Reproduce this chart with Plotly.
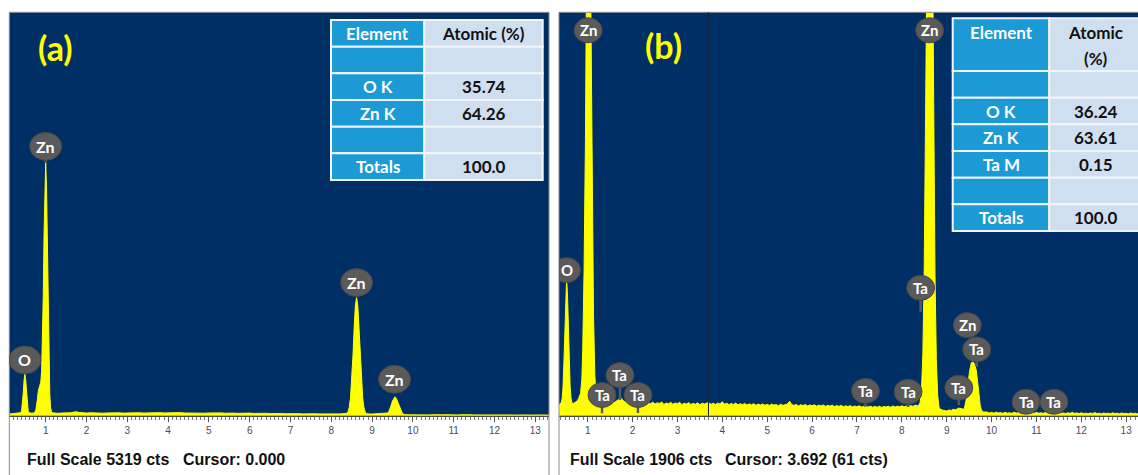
import plotly.graph_objects as go

# ---------------- EDS spectrum (a): undoped ZnO ----------------
# (energy keV, counts)
spectrum_a = [
    (0.10, 22), (0.15, 25), (0.20, 24), (0.25, 27), (0.30, 28), (0.34, 30), (0.37, 36),
    (0.39, 40), (0.41, 70), (0.43, 156), (0.45, 300), (0.47, 470), (0.49, 550),
    (0.51, 470), (0.53, 300), (0.55, 156), (0.57, 70), (0.59, 40), (0.62, 34), (0.66, 33),
    (0.70, 36), (0.72, 38), (0.74, 50), (0.76, 80), (0.78, 140), (0.80, 230), (0.82, 330),
    (0.84, 380), (0.86, 410), (0.88, 445), (0.90, 583), (0.92, 937), (0.94, 1571),
    (0.96, 2397), (0.98, 3100), (1.00, 3335), (1.02, 3022), (1.04, 2247), (1.06, 1371),
    (1.08, 687), (1.10, 283), (1.12, 110), (1.14, 55), (1.17, 38), (1.21, 33),
    (1.30, 31), (1.40, 36), (1.50, 33), (1.60, 38), (1.70, 48), (1.75, 52), (1.80, 44),
    (1.90, 37), (2.00, 35), (2.10, 39), (2.20, 34), (2.30, 37), (2.40, 33), (2.50, 36),
    (2.60, 40), (2.70, 35), (2.80, 38), (2.90, 34), (3.00, 37), (3.10, 41), (3.20, 36),
    (3.30, 39), (3.40, 35), (3.50, 38), (3.60, 42), (3.70, 37), (3.80, 40), (3.90, 36),
    (4.00, 39), (4.10, 35), (4.20, 38), (4.30, 41), (4.40, 36), (4.50, 34), (4.60, 38),
    (4.70, 35), (4.80, 37), (4.90, 33), (5.00, 36), (5.10, 39), (5.20, 34), (5.30, 37),
    (5.40, 33), (5.50, 38), (5.60, 34), (5.70, 31), (5.80, 35), (5.90, 32), (6.00, 34),
    (6.10, 30), (6.20, 33), (6.30, 29), (6.40, 32), (6.50, 28), (6.60, 31), (6.70, 27),
    (6.80, 30), (6.90, 26), (7.00, 29), (7.10, 25), (7.20, 28), (7.30, 24), (7.40, 27),
    (7.50, 23), (7.60, 26), (7.70, 24), (7.80, 22), (7.90, 25), (8.00, 23), (8.10, 26),
    (8.20, 24), (8.30, 28), (8.38, 32), (8.41, 53), (8.44, 109), (8.47, 233), (8.50, 455),
    (8.53, 780), (8.56, 1150), (8.59, 1455), (8.62, 1557), (8.65, 1455), (8.68, 1150),
    (8.71, 780), (8.74, 455), (8.77, 233), (8.80, 109), (8.83, 50), (8.86, 30), (8.90, 24),
    (9.00, 22), (9.10, 25), (9.20, 23), (9.30, 26), (9.35, 28), (9.38, 36), (9.41, 54),
    (9.44, 90), (9.47, 140), (9.50, 195), (9.53, 235), (9.56, 250), (9.59, 235),
    (9.62, 195), (9.65, 140), (9.68, 90), (9.71, 54), (9.74, 34), (9.77, 22), (9.80, 15),
    (9.90, 12), (10.0, 10), (10.1, 13), (10.2, 9), (10.3, 12), (10.4, 10), (10.5, 14),
    (10.6, 9), (10.7, 11), (10.8, 13), (10.9, 9), (11.0, 12), (11.1, 10), (11.2, 13),
    (11.3, 8), (11.4, 12), (11.5, 10), (11.6, 11), (11.7, 9), (11.8, 12), (11.9, 10),
    (12.0, 8), (12.1, 11), (12.2, 9), (12.3, 12), (12.4, 10), (12.5, 8), (12.6, 11),
    (12.7, 9), (12.8, 10), (12.9, 8), (13.0, 11), (13.1, 9), (13.2, 10), (13.3, 8),
    (13.4, 9),
]
full_scale_a = 5319
cursor_a = 0.000

# ---------------- EDS spectrum (b): Ta-doped ZnO ----------------
spectrum_b = [
    (0.36, 52), (0.39, 56), (0.41, 61), (0.43, 81), (0.45, 135), (0.47, 247), (0.49, 413),
    (0.51, 575), (0.53, 645), (0.55, 575), (0.57, 413), (0.59, 247), (0.61, 135),
    (0.63, 81), (0.65, 61), (0.68, 58), (0.72, 62), (0.76, 68), (0.80, 82), (0.84, 105),
    (0.87, 170), (0.89, 320), (0.92, 690), (0.95, 1300), (0.98, 2300), (1.01, 3100),
    (1.04, 2800), (1.07, 1950), (1.10, 1070), (1.13, 480), (1.16, 190), (1.19, 95),
    (1.23, 70), (1.27, 60), (1.30, 58), (1.35, 64), (1.40, 57), (1.45, 65), (1.50, 59),
    (1.55, 68), (1.60, 63), (1.65, 72), (1.70, 78), (1.75, 82), (1.80, 70), (1.85, 64),
    (1.90, 58), (1.95, 66), (2.00, 61), (2.05, 67), (2.10, 56), (2.15, 63), (2.20, 59),
    (2.25, 66), (2.30, 54), (2.35, 62), (2.40, 57), (2.45, 64), (2.50, 55), (2.55, 61),
    (2.60, 58), (2.65, 65), (2.70, 53), (2.75, 60), (2.80, 56), (2.85, 63), (2.90, 54),
    (2.95, 60), (3.00, 57), (3.05, 64), (3.10, 52), (3.15, 59), (3.20, 55), (3.25, 62),
    (3.30, 53), (3.35, 58), (3.40, 54), (3.45, 61), (3.50, 52), (3.55, 59), (3.60, 55),
    (3.65, 60), (3.692, 61), (3.75, 54), (3.80, 59), (3.85, 53), (3.90, 60), (3.95, 55),
    (4.00, 66), (4.05, 54), (4.10, 59), (4.15, 52), (4.20, 58), (4.25, 53), (4.30, 60),
    (4.35, 51), (4.40, 57), (4.45, 52), (4.50, 58), (4.55, 50), (4.60, 56), (4.65, 51),
    (4.70, 57), (4.75, 49), (4.80, 55), (4.85, 50), (4.90, 56), (4.95, 49), (5.00, 54),
    (5.05, 48), (5.10, 55), (5.15, 50), (5.20, 53), (5.25, 47), (5.30, 54), (5.35, 49),
    (5.40, 52), (5.45, 55), (5.50, 68), (5.55, 52), (5.60, 49), (5.65, 53), (5.70, 46),
    (5.75, 52), (5.80, 48), (5.85, 53), (5.90, 46), (5.95, 51), (6.00, 47), (6.05, 52),
    (6.10, 45), (6.15, 50), (6.20, 46), (6.25, 51), (6.30, 44), (6.35, 49), (6.40, 45),
    (6.45, 50), (6.50, 43), (6.55, 48), (6.60, 44), (6.65, 49), (6.70, 42), (6.75, 47),
    (6.80, 43), (6.85, 48), (6.90, 41), (6.95, 46), (7.00, 42), (7.05, 47), (7.10, 41),
    (7.15, 45), (7.20, 46), (7.25, 41), (7.30, 45), (7.35, 40), (7.40, 44), (7.45, 40),
    (7.50, 45), (7.55, 39), (7.60, 44), (7.65, 41), (7.70, 45), (7.75, 40), (7.80, 46),
    (7.85, 41), (7.90, 45), (7.95, 42), (8.00, 47), (8.05, 42), (8.10, 46), (8.15, 43),
    (8.20, 48), (8.25, 44), (8.30, 50), (8.35, 47),
    (8.38, 50), (8.41, 64), (8.44, 123),
    (8.47, 296), (8.50, 700), (8.53, 1425), (8.56, 2396), (8.59, 3281), (8.62, 3645),
    (8.65, 3260), (8.68, 2370), (8.71, 1400), (8.74, 670), (8.77, 265), (8.80, 95),
    (8.83, 40), (8.86, 30), (8.90, 27), (8.95, 24), (9.00, 22), (9.05, 27), (9.10, 25),
    (9.15, 30), (9.20, 28), (9.27, 36), (9.33, 33), (9.39, 30), (9.43, 70), (9.47, 140),
    (9.51, 210), (9.55, 250), (9.58, 255), (9.62, 245), (9.66, 215), (9.69, 160),
    (9.72, 90), (9.75, 45), (9.78, 25), (9.82, 18),
    (9.90, 17), (9.95, 13), (10.0, 16), (10.05, 12), (10.1, 17), (10.15, 13), (10.2, 15),
    (10.25, 11), (10.3, 16), (10.35, 12), (10.4, 14), (10.45, 11), (10.5, 17), (10.55, 12),
    (10.6, 15), (10.65, 13), (10.7, 16), (10.75, 12), (10.8, 18), (10.85, 13), (10.9, 15),
    (10.95, 11), (11.0, 16), (11.05, 12), (11.1, 14), (11.15, 11), (11.2, 15), (11.25, 12),
    (11.3, 17), (11.35, 12), (11.4, 14), (11.45, 10), (11.5, 15), (11.55, 11), (11.6, 13),
    (11.65, 10), (11.7, 14), (11.75, 11), (11.8, 16), (11.85, 11), (11.9, 13), (11.95, 10),
    (12.0, 14), (12.05, 10), (12.1, 12), (12.15, 9), (12.2, 13), (12.25, 10), (12.3, 15),
    (12.35, 10), (12.4, 12), (12.45, 9), (12.5, 13), (12.55, 10), (12.6, 12), (12.65, 9),
    (12.7, 14), (12.75, 10), (12.8, 12), (12.85, 9), (12.9, 13), (12.95, 10), (13.0, 11),
    (13.05, 9), (13.1, 13), (13.15, 10), (13.2, 12), (13.25, 9), (13.3, 11),
]
full_scale_b = 1906
cursor_b = 3.692
cursor_b_cts = 61

# ---------------- peak identification badges ----------------
badge_a_text = ["Zn", "O", "Zn", "Zn"]
badge_a_kev = [1.00, 0.49, 8.62, 9.55]
badge_b_text = ["Zn", "Zn", "O", "Ta", "Ta", "Ta", "Ta", "Ta", "Ta", "Zn", "Ta", "Ta", "Ta", "Ta"]
badge_b_kev = [1.01, 8.62, 0.53, 1.72, 1.32, 2.12, 7.19, 8.14, 8.42, 9.46, 9.67, 9.27, 10.77, 11.39]

# ---------------- quantification tables ----------------
table_header = ["Element", "Atomic (%)"]
table_a_elements = ["O K", "Zn K"]
table_a_atomic = [35.74, 64.26]
table_b_elements = ["O K", "Zn K", "Ta M"]
table_b_atomic = [36.24, 63.61, 0.15]

# ---------------- layout constants ----------------
W, H = 1138, 475
NAVY = "#002f66"
YELLOW = "#ffff00"
BADGE = "#5a5a5a"
KEY_BLUE = "#1b9ad6"
VAL_BLUE = "#d0dff0"
CELL_LINE = "#f2f6fa"
FRAME = "#8c8c8c"
PLOT_TOP, PLOT_BOTTOM = 12.3, 415.7
A_LEFT, A_RIGHT = 9.3, 549.0
B_LEFT, B_RIGHT = 559.0, 1138.0
TABLE_FONT = 17

# badge placement: (centre height in counts, stem foot in counts or None)
badge_a_place = [(3551, 3335), (735, None), (1756, None), (480, None)]
badge_b_place = [(1821, None), (1821, None), (688, None), (192, 74), (98, 11), (98, 13),
                 (117, 42), (113, 41), (604, 491), (428, None), (313, 230), (132, 50),
                 (66, None), (66, None)]


def fx(p):
    return p / W


def fy(p):
    return 1 - p / H


fig = go.Figure()

for spec, xa, ya in ((spectrum_a, "x", "y"), (spectrum_b, "x2", "y2")):
    e, c = zip(*spec)
    fig.add_trace(go.Scatter(
        x=list(e), y=list(c), xaxis=xa, yaxis=ya, mode="lines",
        line=dict(color=YELLOW, width=1), fill="tozeroy", fillcolor=YELLOW,
        hoverinfo="skip", showlegend=False,
    ))

axis_common = dict(
    showgrid=False, zeroline=False, showline=True, linecolor="#4a4a4a", linewidth=1,
    ticks="outside", ticklen=5, tickcolor="#555555", tickwidth=1,
    tick0=0, dtick=1, tickfont=dict(family="Liberation Sans", size=10, color="#4a4a5e"),
    minor=dict(dtick=0.1, tick0=0, ticks="outside", ticklen=3, tickcolor="#777777", tickwidth=1),
    fixedrange=True,
)
ydom = [fy(PLOT_BOTTOM), fy(PLOT_TOP)]
fig.update_layout(
    width=W, height=H, margin=dict(l=0, r=0, t=0, b=0), autosize=False,
    paper_bgcolor="white", plot_bgcolor=NAVY,
    xaxis=dict(domain=[fx(A_LEFT), fx(A_RIGHT)], range=[0.108, 13.336], anchor="y", **axis_common),
    xaxis2=dict(domain=[fx(B_LEFT), fx(B_RIGHT)], range=[0.361, 13.264], anchor="y2", **axis_common),
    yaxis=dict(domain=ydom, range=[0, full_scale_a], visible=False, fixedrange=True),
    yaxis2=dict(domain=ydom, range=[0, full_scale_b], visible=False, fixedrange=True, anchor="x2"),
)

shapes = []
ann = []

# panel frames
for l, r in ((A_LEFT, A_RIGHT), (B_LEFT, B_RIGHT + 2)):
    shapes.append(dict(type="rect", xref="paper", yref="paper", x0=fx(l), x1=fx(r),
                       y0=fy(H + 2), y1=fy(PLOT_TOP), line=dict(color=FRAME, width=1),
                       fillcolor="rgba(0,0,0,0)", layer="above"))

# cursor marker in (b)
shapes.append(dict(type="line", xref="x2", yref="y2 domain", x0=cursor_b, x1=cursor_b,
                   y0=0, y1=1, line=dict(color="#13243d", width=1)))


def add_badges(texts, kevs, places, xr, yr, rx, ry, fsize):
    for (cy, foot), kev in zip(places, kevs):
        if foot is not None:
            shapes.append(dict(type="line", xref=xr, yref=yr, x0=kev, x1=kev, y0=foot, y1=cy,
                               line=dict(color=BADGE, width=2.5)))
    for t, kev, (cy, foot) in zip(texts, kevs, places):
        shapes.append(dict(type="circle", xref=xr, yref=yr, xsizemode="pixel", ysizemode="pixel",
                           xanchor=kev, yanchor=cy, x0=-rx, x1=rx, y0=-ry, y1=ry,
                           fillcolor=BADGE, line=dict(color="#474747", width=1)))
        ann.append(dict(xref=xr, yref=yr, x=kev, y=cy, text=f"<b>{t}</b>", showarrow=False,
                        font=dict(family="Lato", size=fsize, color="white"),
                        xanchor="center", yanchor="middle"))


add_badges(badge_a_text, badge_a_kev, badge_a_place, "x", "y", 16, 14, 16)
add_badges(badge_b_text, badge_b_kev, badge_b_place, "x2", "y2", 14, 12.5, 15)


def cell_text(x, y, text, color):
    ann.append(dict(xref="paper", yref="paper", x=fx(x), y=fy(y), text=f"<b>{text}</b>",
                    showarrow=False, xanchor="center", yanchor="middle",
                    font=dict(family="Lato", size=TABLE_FONT, color=color)))


def add_table(elements, atomic, left, mid, right, top, header_h, row_h, wrap_header):
    rows = [("", "")] + [(el, f"{v:.2f}") for el, v in zip(elements, atomic)] + [("", "")]
    rows.append(("Totals", f"{sum(atomic):.1f}"))
    y = top
    for x0, x1, fill in ((left, mid, KEY_BLUE), (mid, right, VAL_BLUE)):
        shapes.append(dict(type="rect", xref="paper", yref="paper", x0=fx(x0), x1=fx(x1),
                           y0=fy(y + header_h), y1=fy(y), fillcolor=fill,
                           line=dict(color=CELL_LINE, width=2)))
    first_line = y + 13.8
    cell_text((left + mid) / 2, first_line, table_header[0], "white")
    parts = table_header[1].split(" ") if wrap_header else [table_header[1]]
    for k, part in enumerate(parts):
        cell_text((mid + right) / 2, first_line + 26.6 * k, part, "#111111")
    y += header_h
    for key, val in rows:
        for x0, x1, fill in ((left, mid, KEY_BLUE), (mid, right, VAL_BLUE)):
            shapes.append(dict(type="rect", xref="paper", yref="paper", x0=fx(x0), x1=fx(x1),
                               y0=fy(y + row_h), y1=fy(y), fillcolor=fill,
                               line=dict(color=CELL_LINE, width=2)))
        cy = y + row_h / 2
        if key:
            cell_text((left + mid) / 2, cy, key, "white")
        if val:
            cell_text((mid + right) / 2, cy, val, "#111111")
        y += row_h


add_table(table_a_elements, table_a_atomic, 331, 424.3, 542.7, 20, 26.67, 26.67, False)
add_table(table_b_elements, table_b_atomic, 952.7, 1049.3, 1142, 18.3, 52.7, 26.67, True)

# panel tags
for tag, x, y in (("(a)", 55.5, 47.5), ("(b)", 663, 46)):
    ann.append(dict(xref="paper", yref="paper", x=fx(x), y=fy(y), text=f"<b>{tag}</b>",
                    xanchor="center", yanchor="middle", showarrow=False,
                    font=dict(family="Lato", size=34, color=YELLOW)))

# status lines under each spectrum
status_font = dict(family="Liberation Sans", size=16, color="#111111")
status = [
    (25, f"Full Scale {full_scale_a} cts"),
    (181, f"Cursor: {cursor_a:.3f}"),
    (567.7, f"Full Scale {full_scale_b} cts"),
    (723.3, f"Cursor: {cursor_b:.3f} ({cursor_b_cts} cts)"),
]
for x, text in status:
    ann.append(dict(xref="paper", yref="paper", x=fx(x), y=fy(459.5), xanchor="left",
                    yanchor="middle", text=f"<b>{text}</b>", showarrow=False, font=status_font))

fig.update_layout(shapes=shapes, annotations=ann)
fig.write_html("out.html")
